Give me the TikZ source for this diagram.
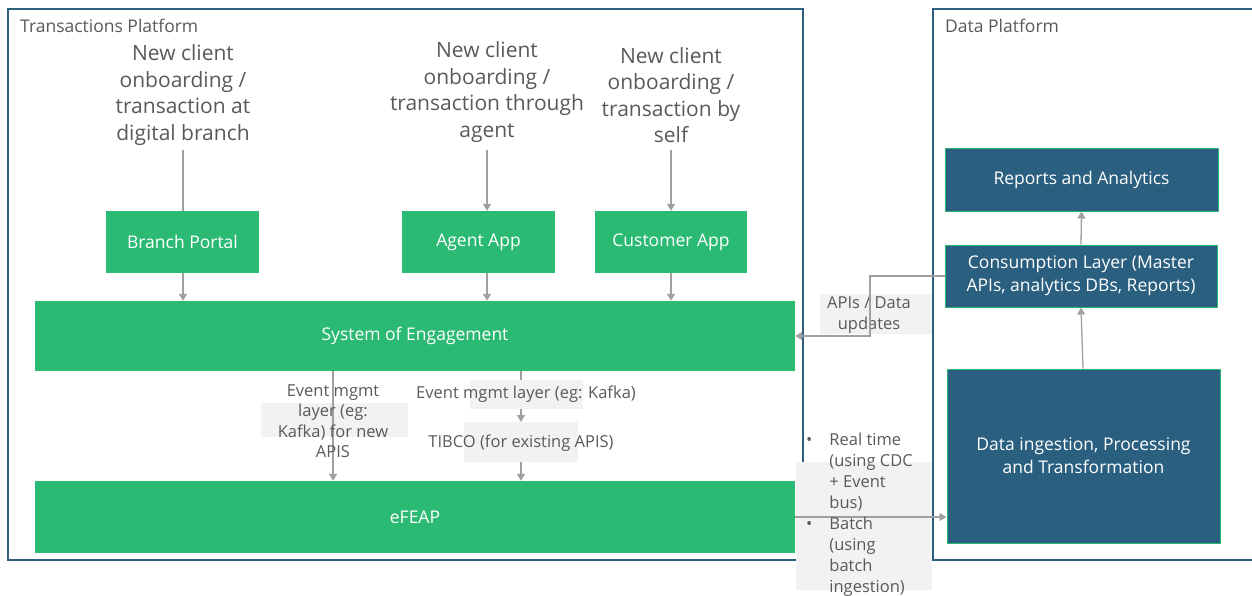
\documentclass[tikz,border=0pt]{standalone}
\usepackage{fontspec}
\setmainfont{Open Sans}
\usetikzlibrary{arrows.meta,positioning,calc}
\definecolor{grn}{HTML}{2BBA73}
\definecolor{dblue}{HTML}{2A5F80}
\definecolor{frame}{HTML}{2E5F7F}
\definecolor{txt}{HTML}{595959}
\definecolor{lbg}{HTML}{F2F2F2}
\definecolor{arr}{HTML}{A0A0A0}
\tikzset{
  gbox/.style={draw=none,fill=grn,text=white,font=\fontsize{17.5}{20}\selectfont,inner sep=0pt},
  bbox/.style={draw=grn,line width=1pt,fill=dblue,text=white,font=\fontsize{17.5}{23}\selectfont,inner sep=0pt,align=center},
  conn/.style={draw=arr,line width=1.3pt},
  arrow/.style={conn,-{Triangle[width=8pt,length=7pt]}},
  title/.style={text=txt,font=\fontsize{21}{26.5}\selectfont,align=center},
  lbl/.style={text=txt,font=\fontsize{16.5}{21}\selectfont,align=center},
  frm/.style={draw=frame,line width=1.2pt},
  ftitle/.style={text=txt,font=\fontsize{17.5}{18}\selectfont,anchor=west,inner sep=0pt}
}
\begin{document}
\begin{tikzpicture}[x=1pt,y=-1pt]
\useasboundingbox (0,0) rectangle (1252,596);
% frames
\draw[frm] (8,9) rectangle (803,560);
\draw[frm] (1260,9) -- (933,9) -- (933,560) -- (1260,560);
\node[ftitle] (tp) at (20,26) {Transactions Platform};
\node[ftitle] (dp) at (945,26) {Data Platform};
% title texts
\node[title] (t1) at (183,95) {New client\\onboarding /\\transaction at\\digital branch};
\node[title] (t2) at (487,92) {New client\\onboarding /\\transaction through\\agent};
\node[title] (t3) at (671,95) {New client\\onboarding /\\transaction by\\self};
% green boxes
\node[gbox,minimum width=153pt,minimum height=62pt] (bp) at (182.5,242) {Branch Portal};
\node[gbox,minimum width=153pt,minimum height=62pt] (aa) at (478.5,242) {Agent App};
\node[gbox,minimum width=152pt,minimum height=62pt] (ca) at (671,242) {Customer App};
\node[gbox,minimum width=760pt,minimum height=70pt] (soe) at (415,336) {System of Engagement};
\node[gbox,minimum width=760pt,minimum height=72pt] (ef) at (415,517) {eFEAP};
% data platform boxes
\node[bbox,minimum width=273pt,minimum height=62pt] (ra) at (1081.5,180) {Reports and Analytics};
\node[bbox,minimum width=272pt,minimum height=62pt] (cl) at (1081,276) {Consumption Layer (Master\\APIs, analytics DBs, Reports)};
\node[bbox,minimum width=273pt,minimum height=174pt] (di) at (1083.5,456) {Data ingestion, Processing\\and Transformation};
% top connectors
\coordinate (t1b) at (183,150);
\coordinate (t2b) at (487,150);
\coordinate (t3b) at (671,150);
\draw[conn] (t1b) -- (bp.north-|t1b);
\draw[arrow] (t2b) -- (aa.north-|t2b);
\draw[arrow] (t3b) -- (ca.north-|t3b);
\draw[arrow] (bp.south-|t1b) -- (soe.north-|t1b);
\draw[arrow] (aa.south-|t2b) -- (soe.north-|t2b);
\draw[arrow] (ca.south-|t3b) -- (soe.north-|t3b);
% left event connector
\coordinate (lx) at (333,0);
\fill[lbg] (261,403) rectangle (408,437);
\draw[arrow] (soe.south-|lx) -- (ef.north-|lx);
\node[lbl,font=\fontsize{16.5}{20.5}\selectfont] (el) at (333,421) {Event mgmt\\layer (eg:\\Kafka) for new\\APIS};
% right event connector
\coordinate (rx) at (521,0);
\fill[lbg] (470,380) rectangle (583,409);
\fill[lbg] (464,422) rectangle (578,462);
\node[lbl] (em) at (526,394) {Event mgmt layer (eg: Kafka)};
\node[lbl] (tib) at (521,443) {TIBCO (for existing APIS)};
\coordinate (em1) at (521,409);
\coordinate (tib1) at (521,462);
\draw[conn] (soe.south-|rx) -- (521,380);
\draw[arrow] (em1) -- (521,422);
\draw[arrow] (tib1) -- (ef.north-|rx);
% APIs / data updates
\fill[lbg] (820,294) rectangle (932,334);
\node[lbl] (api) at (869,315) {APIs / Data\\updates};
\draw[arrow] (cl.west) -- (870,276) -- (870,336) -- (soe.east|-0,336);
% data platform arrows
\draw[arrow] (cl.north) -- (ra.south);
\draw[arrow] (di.north-|1083,0) -- (cl.south-|1081,0);
% eFEAP to ingestion
\fill[lbg] (796,462) rectangle (932,590);
\draw[arrow] (ef.east|-0,517) -- (di.west|-0,517);
\node[lbl,anchor=north west,align=left,inner sep=0pt] (bt) at (806,431)
  {\begin{tabular}{@{}l@{\hspace{17pt}}l@{}}
   \textbullet & Real time\\ & (using CDC\\ & + Event\\ & bus)\\
   \textbullet & Batch\\ & (using\\ & batch\\ & ingestion)
   \end{tabular}};
\end{tikzpicture}
\end{document}
